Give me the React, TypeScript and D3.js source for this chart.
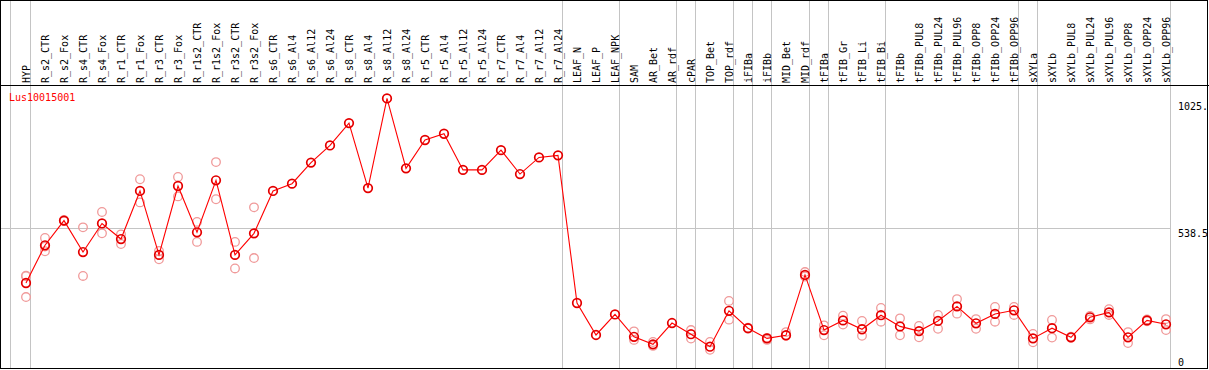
import React from "react";
import * as d3 from "d3";

const seriesName = "Lus10015001";

const categories = [
  "HYP", "R_s2_CTR", "R_s2_Fox", "R_s4_CTR", "R_s4_Fox", "R_r1_CTR", "R_r1_Fox", "R_r3_CTR", "R_r3_Fox",
  "R_r1s2_CTR", "R_r1s2_Fox", "R_r3s2_CTR", "R_r3s2_Fox", "R_s6_CTR", "R_s6_Al4", "R_s6_Al12", "R_s6_Al24",
  "R_s8_CTR", "R_s8_Al4", "R_s8_Al12", "R_s8_Al24", "R_r5_CTR", "R_r5_Al4", "R_r5_Al12", "R_r5_Al24",
  "R_r7_CTR", "R_r7_Al4", "R_r7_Al12", "R_r7_Al24", "LEAF_N", "LEAF_P", "LEAF_NPK", "SAM", "AR_Bet", "AR_rdf",
  "cPAR", "TOP_Bet", "TOP_rdf", "iFIBa", "iFIBb", "MID_Bet", "MID_rdf", "tFIBa", "tFIB_Gr", "tFIB_Li", "tFIB_Bi",
  "tFIBb", "tFIBb_PUL8", "tFIBb_PUL24", "tFIBb_PUL96", "tFIBb_OPP8", "tFIBb_OPP24", "tFIBb_OPP96",
  "sXYLa", "sXYLb", "sXYLb_PUL8", "sXYLb_PUL24", "sXYLb_PUL96", "sXYLb_OPP8", "sXYLb_OPP24", "sXYLb_OPP96",
];

const means = [
  327, 472, 567, 446, 556, 496, 681, 435, 700,
  522, 722, 435, 518, 681, 709, 790, 856,
  942, 692, 1037, 768, 877, 901, 762, 762,
  838, 746, 810, 818, 250, 127, 206, 120, 91, 173,
  130, 82, 220, 153, 114, 126, 358, 146, 183, 149, 203,
  160, 142, 181, 237, 172, 208, 222,
  114, 153, 118, 195, 214, 118, 183, 168,
];

const replicates: number[][] = [
  [355, 273, 353], [500, 449, 467], [569, 565], [541, 354], [600, 518], [514, 477], [726, 637], [450, 418], [735, 660],
  [562, 485], [792, 649], [485, 383], [618, 423], [], [], [], [],
  [], [], [], [], [], [], [], [],
  [], [], [], [], [], [], [], [141, 108], [100, 85], [],
  [146, 113], [100, 70], [258, 186], [155, 151], [116, 108], [138, 124], [369, 352], [164, 126], [201, 167], [181, 124], [231, 178],
  [191, 126], [162, 118], [204, 151], [265, 209], [188, 151], [235, 178], [235, 204],
  [131, 99], [185, 117], [120, 116], [200, 187], [226, 204], [138, 96], [187, 180], [188, 146],
];

const groupEnds = ["HYP", "R_r7_Al24", "LEAF_NPK", "AR_rdf", "cPAR", "TOP_rdf", "iFIBa", "iFIBb", "MID_rdf", "tFIBa", "tFIB_Bi", "tFIBb_OPP96", "sXYLa", "sXYLb_OPP96"];

const tickValues = [0, 538.5, 1025.4];
const tickLabels = ["0", "538.5", "1025."];
const gridValues = [538.5];

const W = 1209;
const H = 370;
const HEADER_Y = 85;
const FONT = "'DejaVu Sans Mono', 'Liberation Mono', monospace";

export default function App() {
  const x = d3.scalePoint<string>().domain(categories).range([26, 1166]);
  const y = d3.scaleLinear().domain([0, 1077]).range([368, 88]);
  const line = d3
    .line<number>()
    .x((_, i) => x(categories[i]) as number)
    .y((d) => y(d));

  const leftLine = (x(categories[0]) as number) - 15.5;
  const rightEdge = (x(categories[categories.length - 1]) as number) + 4.5;

  return (
    <div style={{ position: "fixed", left: 0, top: 0 }}>
      <svg width={W} height={H} style={{ display: "block", background: "#fff" }}>
        <defs>
          <clipPath id="frame">
            <rect x={1} y={1} width={W - 3} height={H - 3} />
          </clipPath>
        </defs>
        <rect x={0} y={0} width={W} height={H} fill="#fff" />
        <g clipPath="url(#frame)">
          <line x1={leftLine} x2={leftLine} y1={0} y2={H} stroke="#c4c4c4" strokeWidth={1} />
          {groupEnds.map((c) => {
            const gx = Math.round((x(c) as number) + 4) + 0.5;
            return <line key={c} x1={gx} x2={gx} y1={0} y2={H} stroke="#c4c4c4" strokeWidth={1} />;
          })}
          {gridValues.map((v) => (
            <line key={v} x1={0} x2={rightEdge} y1={Math.round(y(v)) + 0.5} y2={Math.round(y(v)) + 0.5} stroke="#c4c4c4" strokeWidth={1} />
          ))}
          {categories.map((c) => {
            const cx = (x(c) as number) + 3.5;
            return (
              <text
                key={c}
                transform={`translate(${cx},83) rotate(-90)`}
                fontFamily={FONT}
                fontSize={10}
                fill="#000"
              >
                {c}
              </text>
            );
          })}
          <text x={9} y={101} fontFamily={FONT} fontSize={10} fill="#ff0000">
            {seriesName}
          </text>
          {tickValues.map((v, i) =>
            v === 0 ? (
              <text key={v} x={1178} y={y(v) - 2.5} fontFamily={FONT} fontSize={10} fill="#000">
                {tickLabels[i]}
              </text>
            ) : (
              <text key={v} x={1178} y={y(v) + 8.5} fontFamily={FONT} fontSize={10} fill="#000">
                {tickLabels[i]}
              </text>
            )
          )}
          {replicates.map((reps, i) =>
            reps.map((v, j) => (
              <circle
                key={`${i}-${j}`}
                cx={x(categories[i]) as number}
                cy={y(v)}
                r={4.3}
                fill="none"
                stroke="#f09a9a"
                strokeWidth={1.3}
              />
            ))
          )}
          <path d={line(means) || ""} fill="none" stroke="#ff0000" strokeWidth={1.1} />
          {means.map((v, i) => (
            <g key={i}>
              <circle cx={x(categories[i]) as number} cy={y(v)} r={4.3} fill="none" stroke="#ff0000" strokeWidth={1.7} />
              <circle cx={x(categories[i]) as number} cy={y(v)} r={4.3} fill="none" stroke="#000" strokeWidth={0.5} strokeOpacity={0.35} />
            </g>
          ))}
        </g>
        <line x1={0} x2={W} y1={HEADER_Y + 0.5} y2={HEADER_Y + 0.5} stroke="#000" strokeWidth={1} />
        <rect x={0.5} y={0.5} width={W - 2} height={H - 2} fill="none" stroke="#000" strokeWidth={1} />
      </svg>
    </div>
  );
}
